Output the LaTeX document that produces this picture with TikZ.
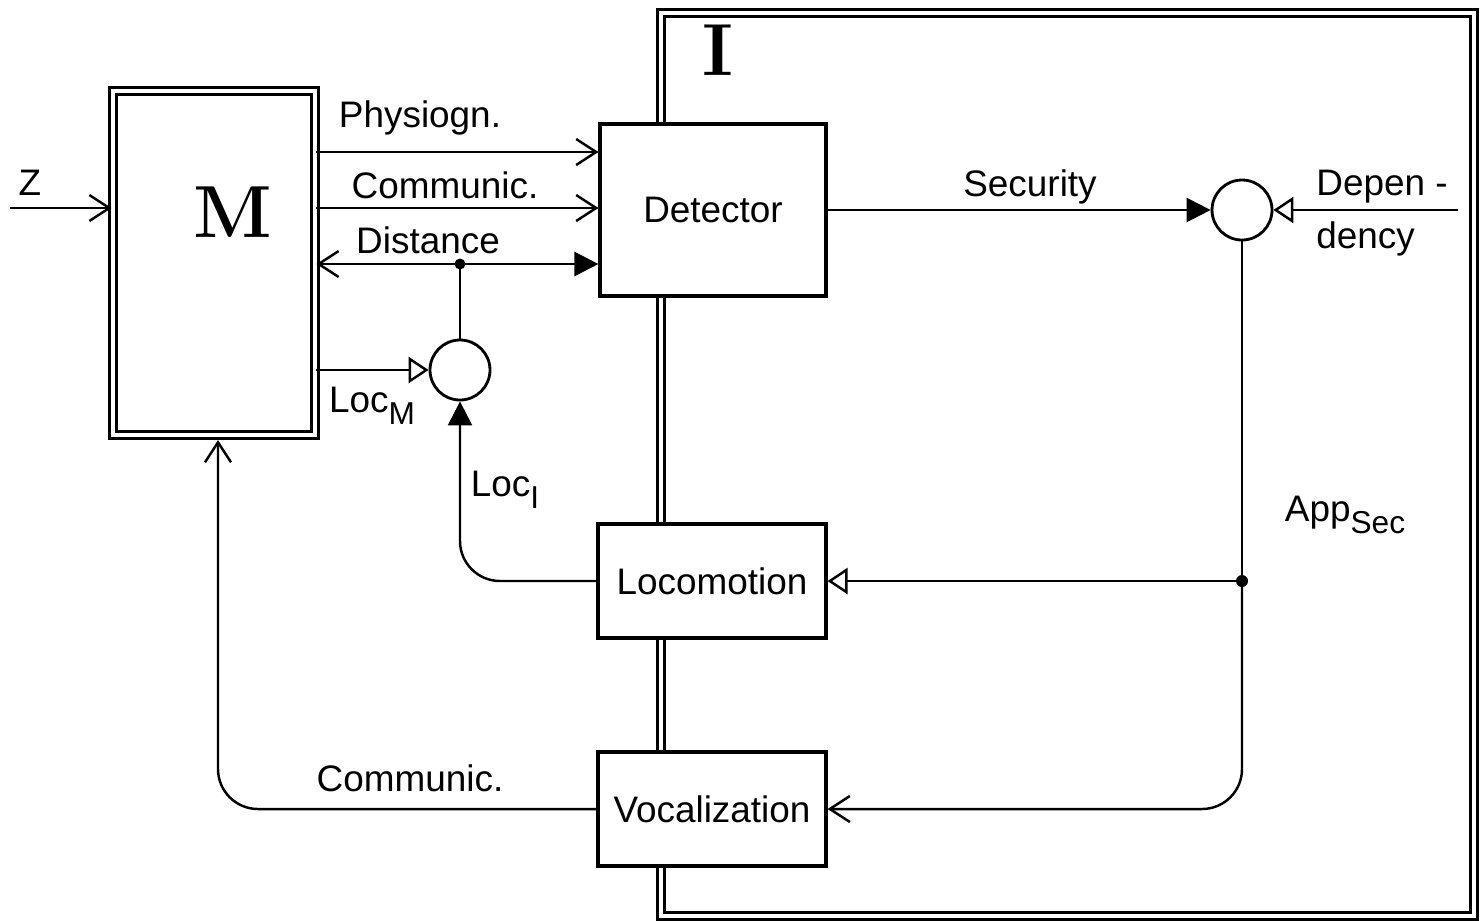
\documentclass[tikz,border=0pt]{standalone}
\usepackage{fontspec}
\newfontfamily\labelfont{Liberation Sans}
\usetikzlibrary{arrows.meta,positioning}

\newcommand{\lowsub}[1]{\raisebox{-0.6ex}{\small #1}}

\tikzset{
  barbtip/.tip={Straight Barb[length=2mm,width=2.6mm]},
  filltip/.tip={Triangle[length=2.4mm,width=2.4mm]},
  opentip/.tip={Triangle[open,length=2mm,width=2.6mm]},
}

\begin{document}
\begin{tikzpicture}[
  every node/.style={font=\labelfont\fontsize{10.5}{15}\selectfont},
  line width=0.7pt,
  blockbox/.style={draw, fill=white, line width=0.9pt, inner sep=0pt},
  twinbox/.style={draw, double, double distance=1pt, line width=0.8pt, inner sep=0pt},
  sumnode/.style={draw, circle, line width=0.8pt, minimum size=6mm, inner sep=0pt},
  bigletter/.style={font=\rmfamily\bfseries\fontsize{21}{24}\selectfont},
]
\useasboundingbox (0,0) rectangle (14.84,-9.20);

% the two systems
\node[twinbox, minimum width=8.13cm, minimum height=9.03cm] (ibox) at (10.675,-4.645) {};
\node[twinbox, minimum width=2.02cm, minimum height=3.44cm] (mbox) at (2.14,-2.63) {};
\node[bigletter] (mlabel) at (2.33,-2.12) {M};
\node[bigletter] (ilabel) at (7.18,-0.50) {I};

% blocks of I
\node[blockbox, minimum width=2.26cm, minimum height=1.72cm] (detector) at (7.13,-2.10) {Detector};
\node[blockbox, minimum width=2.28cm, minimum height=1.14cm] (locomotion) at (7.12,-5.81) {Locomotion};
\node[blockbox, minimum width=2.28cm, minimum height=1.14cm] (vocalization) at (7.12,-8.09) {Vocalization};

% comparators
\node[sumnode] (sumloc) at (4.60,-3.70) {};
\node[sumnode] (sumsec) at (12.42,-2.10) {};

% labels
\node (ztext) at (0.30,-1.83) {Z};
\node (physlbl) at (4.20,-1.18) {Physiogn.};
\node (commlbl) at (4.45,-1.85) {Communic.};
\node (distlbl) at (4.28,-2.40) {Distance};
\node (locmlbl) at (3.72,-4.06) {Loc\lowsub{M}};
\node (locilbl) at (5.05,-4.90) {Loc\lowsub{I}};
\node (seclbl) at (10.30,-1.87) {Security};
\node[align=left] (deplbl) at (13.82,-2.13) {Depen -\\dency};
\node (applbl) at (13.45,-5.15) {App\lowsub{Sec}};
\node (voclbl) at (4.10,-7.78) {Communic.};

% free ends and branch points
\coordinate (zin) at (0.10,-2.08);
\coordinate (depin) at (14.58,-2.10);
\coordinate (mret) at (2.18,-4.40);
\coordinate (physin) at ([yshift=5.8mm]detector.west);
\coordinate (commin) at ([yshift=0.2mm]detector.west);
\coordinate (distin) at ([yshift=-5.4mm]detector.west);
\coordinate (distdot) at (sumloc |- distin);
\coordinate (appdot) at (sumsec |- locomotion);

% M to I
\draw[-barbtip] (zin) -- (mbox.west |- zin);
\draw[-barbtip] (mbox.east |- physin) -- (physin);
\draw[-barbtip] (mbox.east |- commin) -- (commin);
\draw[barbtip-filltip] (mbox.east |- distin) -- (distin);
\fill (distdot) circle (0.055);
\draw (sumloc.north) -- (distdot);
\draw[-opentip] (mbox.east |- sumloc) -- (sumloc.west);
\draw[-filltip, rounded corners=4mm] (locomotion.west) -| (sumloc.south);

% inside I
\draw[-filltip] (detector.east) -- (sumsec.west);
\draw[-opentip] (depin) -- (sumsec.east);
\draw (sumsec.south) -- (appdot);
\fill (appdot) circle (0.06);
\draw[-opentip] (appdot) -- (locomotion.east);
\draw[-barbtip, rounded corners=4mm] (appdot) |- (vocalization.east);

% back to M
\draw[-barbtip, rounded corners=4mm] (vocalization.west) -| (mret);
\end{tikzpicture}
\end{document}
